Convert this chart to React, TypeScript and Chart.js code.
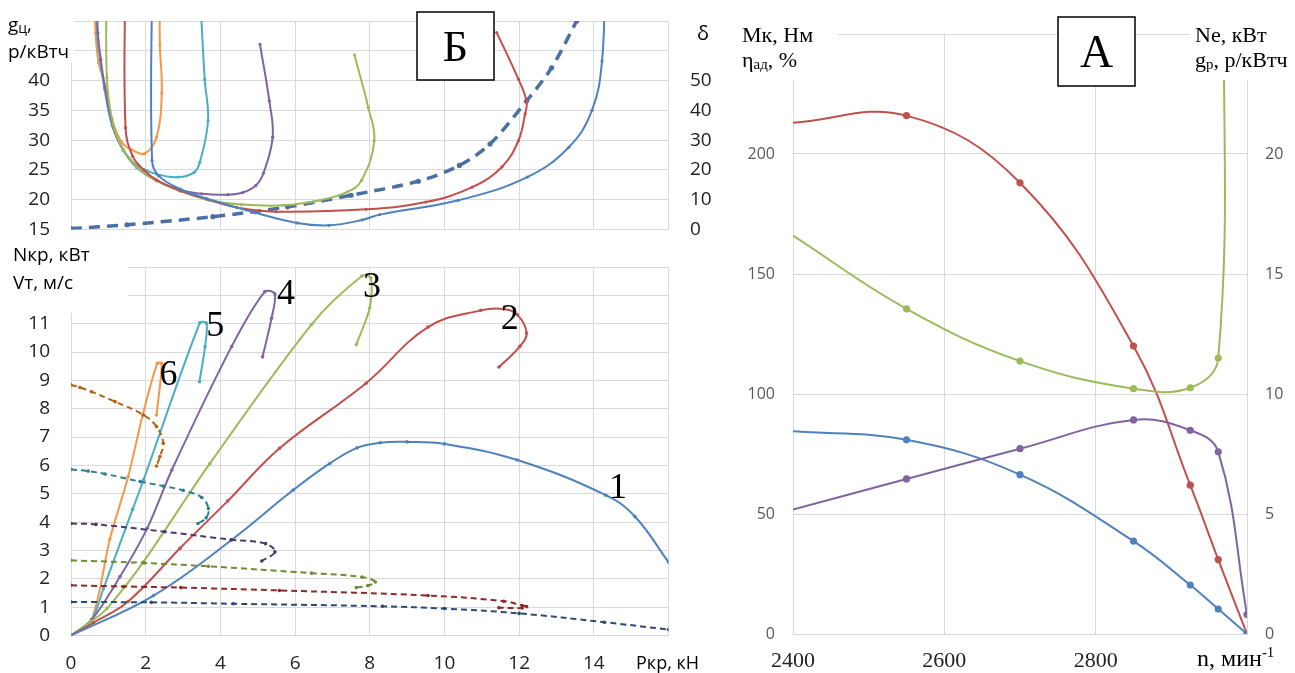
import { useEffect, useRef } from 'react';
import { Chart, registerables } from 'chart.js';

Chart.register(...registerables);

const SANS = '"Open Sans", "Liberation Sans", sans-serif';
const SERIF = '"Liberation Serif", "Times New Roman", serif';
const GRID = '#D9D9D9';
const INK = '#222';

// Excel 2007 palette, one colour per gear
const C1 = '#4F81BD';
const C2 = '#C0504D';
const C3 = '#9BBB59';
const C4 = '#8064A2';
const C5 = '#4BACC6';
const C6 = '#F79646';

// ---------- Б: g_ц (left axis) and δ (right axis) against P_кр, kN
const gcGear1 = [[2.17, 58], [2.17, 26.6], [2.35, 24.0], [2.92, 21.8], [3.63, 20.2], [4.94, 17.8], [6.05, 16.1], [6.91, 15.7], [7.8, 16.6], [8.27, 17.5], [10.37, 19.9], [12.22, 23.8], [13.33, 28.8], [13.95, 35], [14.22, 43.3], [14.3, 58]];
const gcGear2 = [[1.45, 58], [1.46, 32.1], [1.65, 27.3], [1.95, 25.0], [2.3, 23.3], [2.92, 21.5], [3.63, 20.1], [4.44, 18.7], [5.49, 18.0], [7.9, 18.4], [9.5, 19.6], [10.74, 22.1], [11.54, 25.5], [11.98, 29.9], [12.16, 34.4], [12.2, 36.5], [11.98, 40.25], [11.4, 48.05]];
const gcGear3 = [[0.96, 58], [0.96, 40.5], [1.13, 32.6], [1.4, 28.4], [1.76, 25.5], [2.29, 23.2], [2.92, 21.5], [3.7, 19.9], [4.57, 19.2], [5.68, 19.05], [6.67, 19.9], [7.4, 21.3], [7.78, 23.25], [8.12, 29.9], [7.96, 35.5], [7.59, 44.3]];
const gcGear4 = [[0.68, 58], [0.72, 48], [0.8, 43.5], [0.91, 38.8], [1.13, 32.1], [1.4, 28.3], [1.76, 25.4], [2.29, 23.2], [2.96, 21.6], [3.5, 21.0], [4.2, 20.85], [4.6, 21.2], [4.95, 22.4], [5.15, 24.4], [5.4, 30.5], [5.31, 36.6], [5.06, 46.1]];
const gcGear5 = [[0.66, 58], [0.7, 48], [0.78, 43.5], [0.9, 38.5], [1.1, 32.5], [1.4, 28.4], [1.76, 25.8], [2.29, 24.3], [2.87, 23.8], [3.3, 24.6], [3.45, 26.3], [3.67, 33.3], [3.58, 40.2], [3.43, 58]];
const gcGear6 = [[0.62, 58], [0.66, 48], [0.74, 43], [0.91, 39.3], [1.1, 33.5], [1.35, 29.7], [1.62, 28.4], [1.97, 27.75], [2.29, 30.5], [2.43, 38.0], [2.38, 46], [2.37, 58]];
const slip = [[0, 0.3], [1.5, 1.6], [3.8, 4.3], [5.8, 7.6], [7.5, 11.5], [9.3, 16.2], [10.4, 21.5], [11.22, 28.7], [12.2, 43.2], [12.87, 54.3], [13.54, 70], [13.7, 74]];

// ---------- bottom: N_кр, kW (solid) and V_т, m/s (dashed) against P_кр, kN
const nkGear1 = [[0, 0], [2.2, 1.4], [4.29, 3.36], [5.95, 5.13], [6.93, 6.07], [7.66, 6.62], [8.28, 6.8], [9.0, 6.83], [10.0, 6.76], [11.95, 6.19], [14.32, 4.95], [15.1, 4.2], [16, 2.59]];
const nkGear2 = [[0, 0], [0.6, 0.45], [1.53, 1.2], [2.92, 3.08], [4.2, 4.75], [5.58, 6.6], [7.9, 8.9], [9.56, 10.88], [10.97, 11.47], [11.59, 11.52], [11.95, 11.32], [12.2, 10.67], [12.02, 10.2], [11.46, 9.47]];
const nkGear3 = [[0, 0], [0.55, 0.5], [0.96, 0.95], [1.94, 2.6], [3.72, 6.07], [6.44, 10.97], [7.79, 12.68], [8.03, 12.62], [8.0, 11.56], [7.64, 10.26]];
const nkGear4 = [[0, 0], [0.55, 0.55], [1.31, 2.07], [2.04, 3.78], [2.7, 5.84], [4.3, 10.19], [5.19, 12.13], [5.46, 12.05], [5.37, 11.19], [5.13, 9.83]];
const nkGear5 = [[0, 0], [0.55, 0.55], [0.87, 1.66], [1.65, 4.45], [1.94, 5.48], [3.45, 11.03], [3.63, 11.01], [3.59, 10.19], [3.44, 8.95]];
const nkGear6 = [[0, 0], [0.55, 0.55], [1.04, 3.4], [1.53, 5.6], [1.92, 7.78], [2.31, 9.6], [2.43, 9.6], [2.29, 7.78]];
const vtGear1 = [[0, 1.18], [2.15, 1.17], [4.35, 1.12], [8.34, 1.03], [10, 0.95], [12, 0.78], [14.28, 0.47], [16, 0.21]];
const vtGear2 = [[0, 1.77], [1.41, 1.73], [2.94, 1.69], [5.58, 1.59], [9.56, 1.41], [11.59, 1.21], [12.08, 1.06], [12.2, 1.02], [12.08, 0.97], [11.46, 0.98]];
const vtGear3 = [[0, 2.65], [1.96, 2.56], [3.68, 2.44], [6.44, 2.2], [7.79, 2.06], [8.15, 1.89], [7.95, 1.76], [7.64, 1.69]];
const vtGear4 = [[0, 3.95], [0.67, 3.92], [2.51, 3.66], [4.29, 3.38], [5.21, 3.24], [5.46, 2.95], [5.11, 2.63]];
const vtGear5 = [[0, 5.86], [0.46, 5.8], [0.91, 5.7], [1.85, 5.43], [2.47, 5.27], [3.0, 5.12], [3.5, 4.87], [3.68, 4.48], [3.62, 4.15], [3.4, 3.95]];
const vtGear6 = [[0, 8.84], [0.24, 8.75], [0.55, 8.6], [1.18, 8.25], [1.94, 7.78], [2.29, 7.37], [2.47, 6.78], [2.38, 6.31], [2.29, 5.98]];
const gearTags = ['1', '2', '3', '4', '5', '6'];
const gearTagX = [14.65, 11.75, 8.06, 5.76, 3.86, 2.61];
const gearTagY = [5.19, 11.14, 12.26, 12.03, 10.9, 9.16];

// ---------- А: engine characteristic against n, rpm
const nRpm = [2400, 2550, 2700, 2850, 2925, 2962, 3000];
const neKw = [21.3, 21.6, 18.8, 12.0, 6.2, 3.1, 0];
const mkNm = [84.5, 80.9, 66.4, 38.7, 20.4, 10.4, 0];
const etaPct = [51.9, 64.6, 77.2, 89.2, 84.9, 75.9, 8.1];
const grRpm = [2400, 2550, 2700, 2850, 2925, 2962, 2970];
const grVal = [16.6, 13.55, 11.37, 10.22, 10.26, 11.5, 27];

type Run = { t: string; size?: number; dy?: number };
type Note = { x: number; y: number; size: number; font: string; runs: Run[]; align?: 'left' | 'center' };
type Rect = { x: number; y: number; w: number; h: number; frame?: boolean };

const xy = (a: number[][]) => a.map(([x, y]) => ({ x, y }));
const zip = (xs: number[], ys: number[]) => xs.map((x, i) => ({ x, y: ys[i] }));

function curve(data: { x: number; y: number }[], color: string, extra: object = {}) {
  return {
    data,
    borderColor: color,
    backgroundColor: color,
    pointBackgroundColor: color,
    borderWidth: 2,
    pointRadius: 1.6,
    pointBorderWidth: 0,
    tension: 0.4,
    ...extra,
  };
}

function drawNote(ctx: CanvasRenderingContext2D, n: Note) {
  ctx.fillStyle = '#000';
  ctx.textAlign = 'left';
  ctx.textBaseline = 'alphabetic';
  const fonts = n.runs.map((r) => `${r.size ?? n.size}px ${n.font}`);
  let total = 0;
  n.runs.forEach((r, i) => {
    ctx.font = fonts[i];
    total += ctx.measureText(r.t).width;
  });
  let x = n.align === 'center' ? n.x - total / 2 : n.x;
  n.runs.forEach((r, i) => {
    ctx.font = fonts[i];
    ctx.fillText(r.t, x, n.y + (r.dy ?? 0));
    x += ctx.measureText(r.t).width;
  });
}

function overlay(rects: Rect[], notes: Note[], withTags = false) {
  return {
    id: 'overlay',
    afterDraw(chart: any) {
      const ctx: CanvasRenderingContext2D = chart.ctx;
      ctx.save();
      for (const r of rects) {
        ctx.fillStyle = '#fff';
        ctx.fillRect(r.x, r.y, r.w, r.h);
        if (r.frame) {
          ctx.strokeStyle = '#000';
          ctx.lineWidth = 1.5;
          ctx.strokeRect(r.x, r.y, r.w, r.h);
        }
      }
      notes.forEach((n) => drawNote(ctx, n));
      if (withTags) {
        const sx = chart.scales.x;
        const sy = chart.scales.y;
        ctx.font = `36px ${SERIF}`;
        ctx.fillStyle = '#000';
        ctx.textAlign = 'center';
        ctx.textBaseline = 'middle';
        gearTags.forEach((t, i) => ctx.fillText(t, sx.getPixelForValue(gearTagX[i]), sy.getPixelForValue(gearTagY[i])));
      }
      ctx.restore();
    },
  };
}

// fixed axis sizes, and no extra room reserved for the end labels
const width = (w: number) => (s: any) => {
  s.width = w;
  s.paddingTop = 0;
  s.paddingBottom = 0;
};
const height = (h: number) => (s: any) => {
  s.height = h;
  s.paddingLeft = 0;
  s.paddingRight = 0;
};
const hideAbove = (lim: number) => (v: any) => (Number(v) > lim ? '' : v);

const base = {
  animation: false,
  responsive: true,
  maintainAspectRatio: false,
  events: [],
  plugins: { legend: { display: false }, tooltip: { enabled: false } },
};

function topChart(): any {
  const dashed = { borderWidth: 3.5, borderDash: [11, 7], pointRadius: 2.6, tension: 0.3, yAxisID: 'y1' };
  return {
    type: 'line',
    data: {
      datasets: [
        curve(xy(gcGear1), C1),
        curve(xy(gcGear2), C2),
        curve(xy(gcGear3), C3),
        curve(xy(gcGear4), C4),
        curve(xy(gcGear5), C5),
        curve(xy(gcGear6), C6),
        curve(xy(slip), '#4A6FA5', dashed),
      ],
    },
    options: {
      ...base,
      layout: { padding: { top: 21 } },
      scales: {
        x: {
          type: 'linear', min: 0, max: 16,
          ticks: { display: false, stepSize: 2 },
          grid: { color: GRID, drawTicks: false },
          border: { color: GRID },
          afterFit: height(12.5),
        },
        y: {
          min: 15, max: 50,
          ticks: { stepSize: 5, padding: 21, color: INK, font: { size: 19, family: SANS }, callback: hideAbove(40) },
          grid: { color: GRID, drawTicks: false },
          border: { color: GRID },
          afterFit: width(71),
        },
        y1: {
          position: 'right', min: 0, max: 70,
          ticks: { stepSize: 10, padding: 21.5, color: INK, font: { size: 19, family: SANS }, callback: hideAbove(50) },
          grid: { display: false, drawTicks: false },
          border: { color: GRID },
          afterFit: width(51.5),
        },
      },
    },
    plugins: [
      overlay(
        [{ x: 0, y: 0, w: 74, h: 63 }, { x: 417, y: 12, w: 77, h: 68, frame: true }],
        [
          { x: 8, y: 31, size: 19, font: SANS, runs: [{ t: 'g' }, { t: 'ц', size: 14, dy: 2 }, { t: ',' }] },
          { x: 8, y: 58, size: 19, font: SANS, runs: [{ t: 'р/кВтч' }] },
          { x: 703, y: 40, size: 20, font: SANS, align: 'center', runs: [{ t: 'δ' }] },
          { x: 455.5, y: 61, size: 44, font: SERIF, align: 'center', runs: [{ t: 'Б' }] },
        ],
      ),
    ],
  };
}

function bottomChart(): any {
  const dash = { borderDash: [6, 4], pointRadius: 1.8 };
  const solid = { tension: 0.3, pointRadius: 1.8 };
  const smooth = { tension: 0.4, pointRadius: 1.8 };
  return {
    type: 'line',
    data: {
      datasets: [
        curve(xy(vtGear1), '#2C4A74', dash),
        curve(xy(vtGear2), '#8C2A28', dash),
        curve(xy(vtGear3), '#6E8B35', dash),
        curve(xy(vtGear4), '#4A3868', dash),
        curve(xy(vtGear5), '#2E7F91', dash),
        curve(xy(vtGear6), '#B4620F', dash),
        curve(xy(nkGear1), C1, smooth),
        curve(xy(nkGear2), C2, smooth),
        curve(xy(nkGear3), C3, solid),
        curve(xy(nkGear4), C4, solid),
        curve(xy(nkGear5), C5, solid),
        curve(xy(nkGear6), C6, solid),
      ],
    },
    options: {
      ...base,
      layout: { padding: { top: 27, right: 51.5 } },
      scales: {
        x: {
          type: 'linear', min: 0, max: 16,
          ticks: { stepSize: 2, autoSkip: false, maxRotation: 0, padding: 17, color: INK, font: { size: 19, family: SANS }, callback: (v: any) => (Number(v) >= 16 ? '' : v) },
          grid: { color: GRID, drawTicks: false },
          border: { color: GRID },
          afterFit: height(37.5),
        },
        y: {
          min: 0, max: 13,
          ticks: { stepSize: 1, autoSkip: false, padding: 21, color: INK, font: { size: 19, family: SANS }, callback: hideAbove(11) },
          grid: { color: GRID, drawTicks: false },
          border: { color: GRID },
          afterFit: width(71),
        },
      },
    },
    plugins: [
      overlay(
        [{ x: 0, y: 0, w: 128, h: 73 }],
        [
          { x: 13, y: 21, size: 19, font: SANS, runs: [{ t: 'Nкр, кВт' }] },
          { x: 13, y: 49, size: 19, font: SANS, runs: [{ t: 'Vт, м/с' }] },
          { x: 636, y: 429, size: 18, font: SANS, runs: [{ t: 'Ркр, кН' }] },
        ],
        true,
      ),
    ],
  };
}

function engineChart(): any {
  const dot = (c: any) => {
    const v = c.raw;
    const ax = c.chart.scales[c.dataset.yAxisID || 'y'];
    return v.x <= 2400 || v.y > ax.max ? 0 : 3.6;
  };
  const opt = { pointRadius: dot, borderWidth: 2 };
  return {
    type: 'line',
    data: {
      datasets: [
        curve(zip(nRpm, etaPct), C4, opt),
        curve(zip(nRpm, mkNm), C1, opt),
        curve(zip(grRpm, grVal), C3, { ...opt, yAxisID: 'y1' }),
        curve(zip(nRpm, neKw), C2, { ...opt, yAxisID: 'y1' }),
      ],
    },
    options: {
      ...base,
      layout: { padding: { top: 34 } },
      scales: {
        x: {
          type: 'linear', min: 2400, max: 3000,
          ticks: { stepSize: 200, autoSkip: false, maxRotation: 0, padding: 14, color: INK, font: { size: 22, family: SERIF }, callback: (v: any) => (Number(v) >= 3000 ? '' : v) },
          grid: { color: GRID, drawTicks: false },
          border: { color: GRID },
          afterFit: height(39),
        },
        y: {
          min: 0, max: 250,
          ticks: { stepSize: 50, padding: 18, color: '#595959', font: { size: 16, family: SANS }, callback: hideAbove(200) },
          grid: { color: GRID, drawTicks: false },
          border: { color: GRID },
          afterFit: width(73),
        },
        y1: {
          position: 'right', min: 0, max: 25,
          ticks: { stepSize: 5, padding: 18, color: '#595959', font: { size: 16, family: SANS }, callback: hideAbove(20) },
          grid: { display: false, drawTicks: false },
          border: { color: GRID },
          afterFit: width(48),
        },
      },
    },
    plugins: [
      overlay(
        [
          { x: 18, y: 6, w: 100, h: 74 },
          { x: 470, y: 6, w: 105, h: 74 },
          { x: 338, y: 17, w: 77, h: 69, frame: true },
        ],
        [
          { x: 22, y: 42, size: 22, font: SERIF, runs: [{ t: 'Мк, Нм' }] },
          { x: 22, y: 67, size: 22, font: SERIF, runs: [{ t: 'η' }, { t: 'ад', size: 15, dy: 2 }, { t: ', %' }] },
          { x: 475, y: 42, size: 22, font: SERIF, runs: [{ t: 'Ne, кВт' }] },
          { x: 475, y: 67, size: 22, font: SERIF, runs: [{ t: 'g' }, { t: 'р', size: 15, dy: 2 }, { t: ', р/кВтч' }] },
          { x: 376.5, y: 67, size: 46, font: SERIF, align: 'center', runs: [{ t: 'А' }] },
          { x: 477, y: 666, size: 24, font: SERIF, runs: [{ t: 'n, мин' }, { t: '-1', size: 15, dy: -9 }] },
        ],
      ),
    ],
  };
}

function ChartBox({ x, y, w, h, make }: { x: number; y: number; w: number; h: number; make: () => any }) {
  const ref = useRef<HTMLCanvasElement | null>(null);
  useEffect(() => {
    const chart = new Chart(ref.current!, make());
    return () => chart.destroy();
  }, [make]);
  return (
    <div style={{ position: 'absolute', left: x, top: y, width: w, height: h }}>
      <canvas ref={ref} />
    </div>
  );
}

export default function App() {
  return (
    <div style={{ position: 'fixed', left: 0, top: 0, width: 1295, height: 673, background: '#fff', overflow: 'hidden' }}>
      <ChartBox x={0} y={0} w={720} h={242} make={topChart} />
      <ChartBox x={0} y={240} w={720} h={433} make={bottomChart} />
      <ChartBox x={720} y={0} w={575} h={673} make={engineChart} />
    </div>
  );
}
